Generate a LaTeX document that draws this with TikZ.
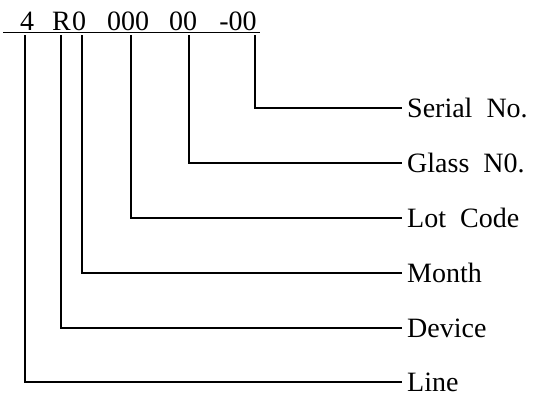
\documentclass[tikz,border=0pt]{standalone}
\usepackage{fontspec}
\setmainfont{Liberation Serif}
\begin{document}
\begin{tikzpicture}[x=1pt,y=-1pt,
  codetxt/.style={inner sep=0pt, anchor=base, font=\fontsize{28}{30}\selectfont},
  lbl/.style={inner sep=0pt, anchor=west, font=\fontsize{28}{30}\selectfont},
  conn/.style={line width=2.4pt, line join=miter},
  uline/.style={line width=1.3pt}]
\useasboundingbox (0,0) rectangle (547,405);
% code string
\node[codetxt] (c4) at (27,30) {4};
\node[codetxt] (cR) at (61.5,30) {R};
\node[codetxt] (c0) at (79,30) {0};
\node[codetxt] (c000) at (128,30) {000};
\node[codetxt] (c00) at (183,30) {00};
\node[codetxt] (cs) at (238,30) {-00};
\coordinate (ul1) at (3,32.5);
\coordinate (ul2) at (260,32.5);
\draw[uline] (ul1) -- (ul2);
% tops of the leaders
\coordinate (t1) at (25,35);
\coordinate (t2) at (61,35);
\coordinate (t3) at (82,35);
\coordinate (t4) at (131,35);
\coordinate (t5) at (189,35);
\coordinate (t6) at (255,35);
% labels
\node[lbl] (serial) at (407,108) {Serial\ \ No.};
\node[lbl] (glass)  at (407,163) {Glass\ \ N0.};
\node[lbl] (lot)    at (407,218) {Lot\ \ Code};
\node[lbl] (month)  at (407,273) {Month};
\node[lbl] (device) at (407,328) {Device};
\node[lbl] (line)   at (407,382) {Line};
% leaders
\coordinate (e1) at (402,382);
\coordinate (e2) at (402,328);
\coordinate (e3) at (402,273);
\coordinate (e4) at (402,218);
\coordinate (e5) at (402,163);
\coordinate (e6) at (402,108);
\draw[conn] (t1) |- (e1);
\draw[conn] (t2) |- (e2);
\draw[conn] (t3) |- (e3);
\draw[conn] (t4) |- (e4);
\draw[conn] (t5) |- (e5);
\draw[conn] (t6) |- (e6);
\end{tikzpicture}
\end{document}
